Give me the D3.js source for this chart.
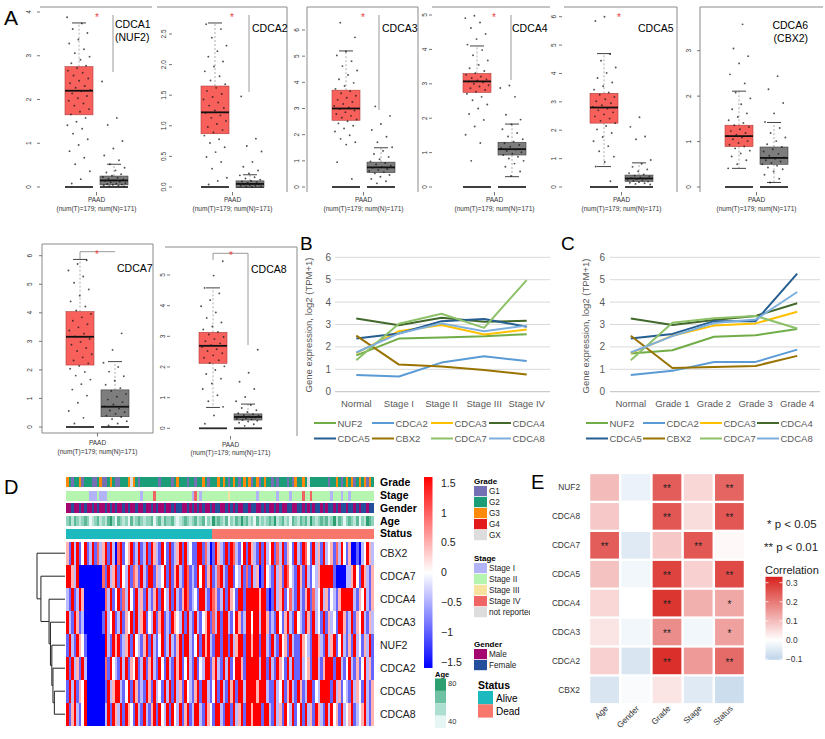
<!DOCTYPE html>
<html><head><meta charset="utf-8">
<script src="https://cdn.jsdelivr.net/npm/d3@7/dist/d3.min.js"></script>
<style>body{margin:0;background:#fff}svg{display:block}</style>
</head><body><svg id="c" width="825" height="739"></svg>
<script>
// ================= DATA =================
// Panel A: boxplots (TCGA PAAD tumor vs GTEx normal)
const boxGenes = ["CDCA1","CDCA2","CDCA3","CDCA4","CDCA5","CDCA6","CDCA7","CDCA8"];
const boxAlias = ["(NUF2)","","","","","(CBX2)","",""];
const boxYMax  = [4,2.5,6,5,6,3,6,5];
const boxTickStep = [1,0.5,1,1,1,1,1,1];
const boxSig   = [true,true,true,true,true,false,true,true];
const boxCaption1 = "PAAD";
const boxCaption2 = "(num(T)=179; num(N)=171)";
// [q1, median, q3, lower whisker, upper whisker]
const tumorStats = [
 [1.65,2.20,2.75,0.00,3.75],[0.87,1.22,1.65,0.03,2.68],[2.55,3.00,3.70,0.00,5.20],[2.75,3.07,3.30,0.00,4.10],
 [2.25,2.80,3.30,0.72,4.70],[0.89,1.12,1.36,0.41,2.11],[2.17,3.16,4.04,0.00,5.87],[2.12,2.69,3.13,0.68,4.58]];
const normalStats = [
 [0.05,0.15,0.25,0.00,0.52],[0.00,0.05,0.10,0.00,0.20],[0.55,0.75,0.95,0.00,1.50],[0.93,1.10,1.30,0.30,1.83],
 [0.20,0.30,0.42,0.00,0.85],[0.50,0.64,0.88,0.10,1.42],[0.36,0.71,1.30,0.00,2.29],[0.27,0.37,0.47,0.00,0.79]];
const tumorPts = [
 [3.88,3.74,3.61,3.52,3.37,3.28,3.15,3.06,2.98,2.91,2.83,2.77,2.72,2.66,2.61,2.55,2.48,2.43,2.37,2.31,2.27,2.22,2.19,2.14,2.08,2.03,1.97,1.91,1.86,1.78,1.72,1.66,1.58,1.49,1.41,1.33,1.22,1.09,0.96,0.82,0.67,0.52,0.36,0.18,0.08],
 [2.66,2.58,2.44,2.31,2.22,2.13,2.05,1.97,1.89,1.81,1.74,1.68,1.62,1.57,1.52,1.47,1.43,1.38,1.33,1.29,1.25,1.21,1.17,1.13,1.08,1.03,0.98,0.93,0.89,0.84,0.78,0.72,0.65,0.57,0.49,0.41,0.30,0.15,0.10,0.04],
 [6.28,5.72,5.18,5.03,4.81,4.62,4.45,4.28,4.12,3.98,3.86,3.75,3.66,3.58,3.49,3.41,3.33,3.25,3.17,3.10,3.04,2.98,2.92,2.86,2.79,2.72,2.65,2.58,2.51,2.43,2.34,2.24,2.12,1.98,1.84,1.71,1.62,0.95,0.31],
 [4.98,4.91,4.78,4.62,4.45,4.30,4.14,3.98,3.83,3.68,3.55,3.45,3.37,3.31,3.26,3.21,3.17,3.13,3.10,3.07,3.04,3.00,2.96,2.92,2.87,2.82,2.77,2.71,2.62,2.52,2.40,2.28,2.12,1.95,1.76,1.52,1.28,0.76],
 [6.00,5.85,4.68,4.45,4.21,4.02,3.84,3.68,3.55,3.43,3.33,3.25,3.17,3.09,3.02,2.95,2.88,2.82,2.76,2.70,2.63,2.56,2.49,2.41,2.33,2.25,2.15,2.03,1.90,1.76,1.61,1.44,1.26,1.07,0.88,0.72,0.20],
 [3.58,3.05,2.88,2.72,2.48,2.28,2.08,1.95,1.82,1.71,1.62,1.54,1.47,1.41,1.36,1.32,1.27,1.23,1.19,1.15,1.12,1.09,1.05,1.01,0.97,0.93,0.89,0.85,0.80,0.74,0.67,0.59,0.50,0.41],
 [5.84,5.71,5.48,5.27,5.05,4.82,4.60,4.40,4.22,4.08,3.96,3.84,3.72,3.60,3.49,3.38,3.27,3.17,3.08,2.98,2.88,2.77,2.66,2.55,2.44,2.33,2.23,2.14,2.04,1.93,1.80,1.66,1.50,1.31,1.10,0.85,0.56,0.32,0.12],
 [5.45,4.98,4.58,4.40,4.18,3.98,3.78,3.60,3.45,3.32,3.22,3.14,3.06,2.98,2.91,2.84,2.77,2.71,2.65,2.58,2.52,2.45,2.38,2.30,2.22,2.13,2.02,1.90,1.77,1.62,1.46,1.28,1.08,0.88,0.70,0.42,0.15]];
const normalPts = [
 [2.41,1.58,1.42,1.05,0.88,0.72,0.61,0.52,0.44,0.38,0.33,0.29,0.26,0.23,0.21,0.19,0.17,0.15,0.14,0.12,0.11,0.09,0.08,0.07,0.06,0.05,0.04,0.03,0.02,0.01],
 [1.48,0.79,0.67,0.58,0.41,0.33,0.27,0.22,0.19,0.16,0.14,0.12,0.10,0.09,0.08,0.07,0.06,0.05,0.04,0.04,0.03,0.02,0.02,0.01,0.01,0.00],
 [3.08,2.72,2.41,2.18,1.92,1.71,1.52,1.38,1.26,1.15,1.06,0.98,0.92,0.86,0.81,0.77,0.73,0.69,0.65,0.61,0.57,0.52,0.46,0.39,0.31,0.22,0.14],
 [2.95,2.88,2.62,2.10,1.96,1.82,1.68,1.57,1.47,1.39,1.32,1.27,1.22,1.17,1.13,1.09,1.05,1.01,0.97,0.93,0.88,0.83,0.76,0.68,0.59,0.45,0.32],
 [2.46,2.12,1.78,1.68,0.95,0.82,0.71,0.62,0.55,0.49,0.44,0.40,0.37,0.34,0.31,0.29,0.27,0.25,0.23,0.21,0.19,0.17,0.15,0.13,0.11,0.09],
 [2.44,2.15,1.85,1.62,1.43,1.30,1.19,1.09,1.01,0.94,0.88,0.83,0.78,0.73,0.69,0.65,0.62,0.59,0.56,0.53,0.50,0.47,0.43,0.39,0.34,0.27,0.18,0.10],
 [3.28,2.70,2.25,2.10,1.94,1.78,1.62,1.48,1.36,1.26,1.16,1.06,0.96,0.87,0.79,0.72,0.65,0.58,0.52,0.46,0.40,0.35,0.28,0.20,0.12,0.05],
 [2.56,1.81,1.52,1.28,1.02,0.88,0.76,0.66,0.59,0.53,0.49,0.46,0.43,0.41,0.39,0.37,0.35,0.33,0.31,0.29,0.27,0.25,0.22,0.18,0.13,0.08]];

// Panels B, C: mean expression lines
const lineGenes = ["NUF2","CDCA2","CDCA3","CDCA4","CDCA5","CBX2","CDCA7","CDCA8"];
const stageCats = ["Normal","Stage I","Stage II","Stage III","Stage IV"];
const gradeCats = ["Normal","Grade 1","Grade 2","Grade 3","Grade 4"];
const lineYTicks = [0,1,2,3,4,5,6];
const lineYTitle = "Gene expression, log2 (TPM+1)";
const stageVals = [
 [1.62,2.37,2.42,2.47,2.57],
 [0.75,0.68,1.30,1.58,1.37],
 [1.72,2.70,2.98,2.55,2.78],
 [3.27,2.97,3.30,3.12,3.17],
 [2.37,2.60,3.15,3.25,2.90],
 [2.50,1.21,1.12,0.97,0.77],
 [1.40,3.03,3.48,2.85,4.98],
 [1.75,2.60,3.05,2.70,2.95]];
const gradeVals = [
 [1.70,1.85,2.45,2.52,2.80],
 [0.75,0.93,1.33,1.33,1.88],
 [1.72,2.50,2.95,3.05,3.57],
 [3.27,2.98,3.20,3.38,3.95],
 [2.37,2.58,3.15,3.15,5.27],
 [2.50,1.06,1.10,1.15,1.60],
 [1.40,3.08,3.28,3.38,2.82],
 [1.75,2.48,3.07,3.22,4.45]];

// Panel D: heatmap (z-scores), 120 sample columns, coded levels
const heatGenes = ["CBX2","CDCA7","CDCA4","CDCA3","NUF2","CDCA2","CDCA5","CDCA8"];
const heatLevels = {B:-1.5,b:-0.9,l:-0.4,w:0,p:0.45,r:0.9,R:1.5};
const heatRows = [
 "pbRlRbwRbl RbrlpRbRlB rRbwpRblRb lRbRplbRwb RblpRbRlwb bRRbrlBbRp lbRbRrlbwR bRplbRbRlw RbrlRbpwbR lbRrwbRlpb RlwpbrlRwb pBBbBlwRpl",
 "RRplRBBBBB BBBBrbRlpR bRwlRbrpbR lbRRbplwRb RbpRlbRrbl bRwRbpRblr RlbRRbwlRb rbRlpBbRwl bRlpbRrwlb RpbRlbwlpR RRRRbBBBBl lpRwbRplbp",
 "lbRblRpBBB BBBBBrlRbw RbrlRwbRlp bRlbpRbRwl RbRlbpRrbl wbRRlbRrpb lRbRpwbRRb RRRRRpRRbB bRlpRbwrlb RlbpRbrlwR lpbwlbpRRR RRlbpwRlbp",
 "RlbRpblBBB BBBBbRlwRb lRbpwRbRlp RbwlRbpRbl bRpwlRbRlb RlbwpRbrlR bRRlbwRpbl RRwRRlRRpb lbRwbpRlbR wlbRpbRlwb RbplwbRRpb lRbpwRlbpl",
 "bRlbRpwbBB BBBBBRlbRp RblpRbRwlb pRbRlbwRbl RlbpRbRRlb wRbRpRlbRR bRRbRlpRRb RRpRRbRRlb RlbRwpbRlb bRpwlbRRpl bRlpRbwRlb pbRlwbplRb",
 "RbRlpbRlBB BBBBBrbRwl bRlRbpwRbl RbpRlbRwbR lbRpRbwRlb RbwlRRbpRl bRlRbwRRpb RRRRRlRRbR lbRpwbRlRb bRlwpbRRlb pRRRbRRlbw RlbpbwRlpb",
 "bRlRbpwRBB BBBBBbRlpR RlbwRbRpbl bRpbRlwbRl RbRlpbRwlb pRbRRlbwRb RlbRpRbRRl RRRRpRRRlb bRlwRbpRlb RpblRRbwlR RRRbRlpbwl bRlpwbRlbp",
 "RbpRlbwRBB BBBBBlRbRp lRbRpwbRlb RlbpRbRwlR bRwlRbpRbl RRlbRpwbRR lbRRbRlpRb RRpRRRbRRl bRlpbRwlRb wRbRlpbRpl bRlRwpbRlw pRblwpRlbp"];
// dendrogram merges (R hclust style: negative = leaf index+1, positive = merge number), height
const dendroMerges = [[-7,-8,0.38],[-6,1,0.43],[-5,2,0.47],[-4,3,0.52],[-3,4,0.57],[-2,5,0.86],[-1,6,1.0]];
// annotations per sample column
const annoNames = ["Grade","Stage","Gender","Age","Status"];
const gradeAnno  = "3212231222 1123112321 12223x3212 2222221222 2123222122 1223212223 2321232123 2312312322 1212221213 2232x22222 2212232123 2312323132";
const stageAnno  = "2222222221 1121112222 2222222221 2222422222 2222222221 4212222222 2223222222 2222122222 2212222122 2242242222 2221222122 1222222222";
const genderAnno = "MMFMMFMFMM FMFMMFMFMF MMFMFMMFMM FMMFMFMMFM MFMFFMMFMF MFMFMMFMFF MMFMFMFMMF FMFFMMFMFM MFMFMMFFMM FFMFMFMFFM FMFFMFMFFM FFMFMFFMFF";
const ageAnno    = "2313212320 1231213420 3212031232 1223023132 2310123212 3123021423 2130213242 3120312123 2412312032 1323142123 2312413202 3213021432";
const statusAnno = "AAAAAAAAAA AAAAAAAAAA AAAAAAAAAA AAAAAAAAAA AAAAAAAAAA AAAAAAADDD DDDDDDDDDD DDDDDDDDDD DDDDDDDDDD DDDDDDDDDD DDDDDDDDDD DDDDDDDDDD";
const ageCodeVals = {"0":40,"1":50,"2":60,"3":70,"4":80};
const heatTicks = [1.5,1,0.5,0,-0.5,-1,-1.5];
const gradeLegend = [["1","G1"],["2","G2"],["3","G3"],["4","G4"],["x","GX"]];
const stageLegend = [["1","Stage I"],["2","Stage II"],["3","Stage III"],["4","Stage IV"],["n","not reported"]];
const genderLegend = [["M","Male"],["F","Female"]];
const statusLegend = [["A","Alive"],["D","Dead"]];
const ageLegendVals = [80,66.7,53.3,40];

// Panel E: correlation with clinical features
const corrRows = ["NUF2","CDCA8","CDCA7","CDCA5","CDCA4","CDCA3","CDCA2","CBX2"];
const corrCols = ["Age","Gender","Grade","Stage","Status"];
const corrVals = [
 [0.10,-0.03,0.24,0.06,0.23],
 [0.08,0.00,0.25,0.05,0.25],
 [0.24,-0.05,0.08,0.25,0.01],
 [0.09,-0.02,0.28,0.07,0.27],
 [0.06,0.00,0.30,0.12,0.13],
 [0.04,-0.02,0.17,-0.02,0.14],
 [0.07,-0.06,0.31,0.15,0.22],
 [-0.06,-0.01,0.04,-0.05,-0.08]];
const corrSig = [
 ["","","**","","**"],
 ["","","**","","**"],
 ["**","","","**",""],
 ["","","**","","**"],
 ["","","**","","*"],
 ["","","**","","*"],
 ["","","**","","**"],
 ["","","","",""]];
const corrTicks = [0.3,0.2,0.1,0.0,-0.1];

// ================= STYLE =================
const FF = "'Liberation Sans', Arial, Helvetica, sans-serif";
const lineColors = ["#70AD47","#5B9BD5","#FFC000","#43682B","#255E91","#997300","#8CC168","#7CAFDD"];
const gradeColors = {"1":"#7570b3","2":"#1b9e77","3":"#ff8a0a","4":"#e31a1c","x":"#dddddd"};
const stageColors = {"1":"#b3b3f7","2":"#b5f5b0","3":"#f7e2a0","4":"#f06464","n":"#dddddd"};
const genderColors = {"M":"#a3076f","F":"#234f9c"};
const statusColors = {"A":"#1cb9bf","D":"#f7776d"};

const svg = d3.select("#c").attr("font-family", FF);
const defs = svg.append("defs");
const blur = defs.append("filter").attr("id","hblur").attr("x",-0.01).attr("y",-0.01).attr("width",1.02).attr("height",1.02);
blur.append("feGaussianBlur").attr("stdDeviation","0.6 0");
function T(g,x,y,s,o){o=o||{};const t=g.append("text").attr("x",x).attr("y",y).text(s)
  .attr("font-size",o.size||10).attr("fill",o.fill||"#000").attr("text-anchor",o.anchor||"start");
  if(o.weight)t.attr("font-weight",o.weight);
  if(o.rot!=null)t.attr("transform",`rotate(${o.rot},${x},${y})`);
  return t;}
function L(g,x1,y1,x2,y2,c,w,dash){const l=g.append("line").attr("x1",x1).attr("y1",y1).attr("x2",x2).attr("y2",y2)
  .attr("stroke",c||"#000").attr("stroke-width",w||1);if(dash)l.attr("stroke-dasharray",dash);return l;}

// panel letters
[["A",4,25,21],["B",300,250,19],["C",561,250,19],["D",4,494,20],["E",531,489,20]].forEach(d=>T(svg,d[1],d[2],d[0],{size:d[3]}));

// ================= PANEL A =================
const boxLayout = [
 {tx:65, zy:187,ty:12,  ax:40, lx:29, bot:192,cap:[202,211],frame:[["h",40,152,7]],star:[97,16],br:[[113,15,113,72]],lab:[115,28,"start"]},
 {tx:201,zy:187,ty:34,  ax:172,lx:164,bot:192,cap:[202,211],frame:[["h",157,287,7],["v",287,7,192]],star:[232,16],br:[[249,15,249,92]],lab:[252,32,"start"]},
 {tx:332,zy:187,ty:30,  ax:305,lx:297,bot:192,cap:[202,211],frame:[["h",307,418,7],["v",307,7,192],["v",418,7,192]],star:[363,16],br:[[379,15,379,110]],lab:[382,32,"start"]},
 {tx:463,zy:187,ty:15,  ax:432,lx:425,bot:192,cap:[202,211],frame:[["h",432,550,7]],star:[494,16],br:[[511,15,511,80]],lab:[512,32,"start"]},
 {tx:590,zy:187,ty:16.7,ax:562,lx:554,bot:192,cap:[202,211],frame:[["h",564,677,7],["v",677,7,192]],star:[619,16],br:[],lab:[638,32,"start"]},
 {tx:725,zy:187,ty:50.7,ax:700,lx:689,bot:192,cap:[202,211],frame:[["h",700,823,7],["v",700,7,192]],star:null,br:[],lab:[808,29,"end"]},
 {tx:66, zy:427,ty:255.7,ax:42,lx:30, bot:433,cap:[445,454],frame:[["h",42,153,244],["v",42,244,433],["v",153,244,433],["h",42,153,433]],star:[97,253],br:[[80,251.7,115,251.7],[80,251.7,80,260]],lab:[117,272,"start"]},
 {tx:199,zy:428.3,ty:275,ax:170,lx:163,bot:436,cap:[447,455],frame:[["h",165,297,247],["v",297,247,436]],star:[231,254],br:[[213,253.3,248,253.3],[213,253.3,213,260],[248,253.3,248,345]],lab:[251,273,"start"]}
];
boxLayout.forEach((P,i)=>{
  const g = svg.append("g");
  const x = d3.scaleBand().domain(["T","N"]).range([P.tx,P.tx+63]).paddingInner(0.2);
  const y = d3.scaleLinear().domain([0,boxYMax[i]]).range([P.zy,P.ty]);
  const bw = x.bandwidth();
  P.frame.forEach(f=>{ if(f[0]==="h") L(g,f[1],f[3],f[2],f[3],"#8a8a8a",1); else L(g,f[1],f[2],f[1],f[3],"#8a8a8a",1); });
  const fmt = boxTickStep[i]<1 ? d3.format(".1f") : d3.format("d");
  y.ticks(Math.round(boxYMax[i]/boxTickStep[i])).forEach(v=>{
    L(g,P.ax-3,y(v),P.ax,y(v),"#555",0.8);
    T(g,P.lx+2.3,y(v),fmt(v),{size:6.5,anchor:"middle",rot:-90,fill:"#333"});
  });
  const cx = P.tx+31.5;
  L(g,cx,P.bot,cx,P.bot+3.5,"#555",0.8);
  T(g,cx,P.cap[0],boxCaption1,{size:6.5,anchor:"middle",fill:"#333"});
  T(g,cx,P.cap[1],boxCaption2,{size:6.5,anchor:"middle",fill:"#333"});
  P.br.forEach(b=>L(g,b[0],b[1],b[2],b[3],"#9a9a9a",1));
  if(boxSig[i] && P.star) T(g,P.star[0],P.star[1]+5,"*",{size:10,anchor:"middle",fill:"#e8403e"});
  T(g,P.lab[0],P.lab[1],boxGenes[i],{size:10.5,anchor:P.lab[2]});
  if(boxAlias[i]) T(g,P.lab[0],P.lab[1]+13,boxAlias[i],{size:10.5,anchor:P.lab[2]});
  [["T",tumorStats[i],tumorPts[i],"#f8605c","#b03c3a"],["N",normalStats[i],normalPts[i],"#7d7d7d","#3c3c3c"]].forEach(([k,s,pts,fill,st])=>{
    const x0 = x(k), c = x0+bw/2;
    L(g,c,y(s[2]),c,y(s[4]),"#777",0.6,"2,2");
    L(g,c-bw/4,y(s[4]),c+bw/4,y(s[4]),"#444",1);
    if(s[3]>0.05){L(g,c,y(s[0]),c,y(s[3]),"#777",0.6,"2,2");L(g,c-bw/4,y(s[3]),c+bw/4,y(s[3]),"#444",1);}
    L(g,x0,y(0),x0+bw,y(0),"#2a2a2a",1.8);
    g.append("rect").attr("x",x0).attr("y",y(s[2])).attr("width",bw).attr("height",Math.max(1,y(s[0])-y(s[2])))
      .attr("fill",fill).attr("stroke",st).attr("stroke-width",0.6);
    L(g,x0,y(s[1]),x0+bw,y(s[1]),"#111",1.8);
    g.selectAll(null).data(pts).join("circle")
      .attr("cx",(d,j)=>c+(((j*0.618034+i*0.13)%1)-0.5)*bw*0.85)
      .attr("cy",d=>y(d)).attr("r",0.95).attr("fill","#1a1a1a").attr("opacity",0.75);
  });
});

// ================= PANELS B & C =================
function linePanel(cats, vals, C){
  const g = svg.append("g");
  const x = d3.scaleBand().domain(cats).range([C.x0,C.x1]);
  const y = d3.scaleLinear().domain([0,6]).range([391.7,257.3]);
  lineYTicks.forEach(v=>{
    L(g,C.x0,y(v),C.x1+2,y(v),v===0?"#bfbfbf":"#d9d9d9",1);
    T(g,C.lx,y(v)+3.5,String(v),{size:10,anchor:"end",fill:"#595959"});
  });
  cats.forEach(c=>T(g,x(c)+x.bandwidth()/2,406.5,c,{size:9.5,anchor:"middle",fill:"#595959"}));
  T(g,C.tx,C.ty,lineYTitle,{size:9.5,anchor:"middle",fill:"#595959",rot:-90});
  const line = d3.line().x((d,j)=>x(cats[j])+x.bandwidth()/2).y(d=>y(d));
  vals.forEach((v,k)=>g.append("path").attr("d",line(v)).attr("fill","none").attr("stroke",lineColors[k]).attr("stroke-width",2).attr("stroke-linejoin","round"));
  lineGenes.forEach((n,k)=>{
    const ly = [423,438.5][Math.floor(k/4)], lx = C.leg[k%4];
    L(g,lx,ly,lx+22,ly,lineColors[k],2);
    T(g,lx+23.5,ly+3.5,n,{size:9.5,fill:"#595959"});
  });
}
linePanel(stageCats, stageVals, {x0:335,x1:548,lx:331,tx:312,ty:325,leg:[314,372,431,489]});
linePanel(gradeCats, gradeVals, {x0:610,x1:818,lx:605,tx:589,ty:326,leg:[586,643,700,757]});

// ================= PANEL D =================
const gD = svg.append("g");
const nCols = heatRows[0].replace(/ /g,"").length;
const colIdx = d3.range(nCols);
const hx = d3.scaleBand().domain(colIdx).range([66,374]);
const hy = d3.scaleBand().domain(heatGenes).range([541.7,725.7]);
const heatColor = d3.scaleLinear().domain([-1.5,0,1.5]).range(["#0000ff","#ffffff","#ff0000"]).clamp(true);
const gHeat = gD.append("g").attr("filter","url(#hblur)");
heatRows.forEach((row,r)=>{
  const vals = row.replace(/ /g,"").split("").map(ch=>heatLevels[ch]);
  gHeat.selectAll(null).data(vals).join("rect")
    .attr("x",(d,j)=>hx(j)).attr("y",hy(heatGenes[r])).attr("width",hx.bandwidth()+0.35).attr("height",hy.bandwidth()+0.3)
    .attr("fill",d=>heatColor(d)).attr("shape-rendering","crispEdges");
  T(gD,380,hy(heatGenes[r])+hy.bandwidth()/2+3.6,heatGenes[r],{size:10.5,fill:"#222"});
});
const ageColor = d3.scaleLinear().domain([40,60,80]).range(["#e6f6f5","#8fd3bd","#2c9f70"]);
const annoRows = [
 [gradeAnno, ch=>gradeColors[ch], 477.3],
 [stageAnno, ch=>stageColors[ch], 490.6],
 [genderAnno, ch=>genderColors[ch], 503.3],
 [ageAnno, ch=>ageColor(ageCodeVals[ch]), 516],
 [statusAnno, ch=>statusColors[ch], 528.7]];
annoRows.forEach(([s,fc,yy],k)=>{
  const codes = s.replace(/ /g,"").split("");
  gD.selectAll(null).data(codes).join("rect")
    .attr("x",(d,j)=>hx(j)).attr("y",yy).attr("width",hx.bandwidth()+0.35).attr("height",10)
    .attr("fill",d=>fc(d)).attr("shape-rendering","crispEdges");
  T(gD,380,yy+8.6,annoNames[k],{size:10.5,weight:"bold"});
});
const dx = d3.scaleLinear().domain([0,1]).range([65,37]);
const nodePos = [];
function pos(id){ return id<0 ? {y:hy(heatGenes[-id-1])+hy.bandwidth()/2, h:0} : nodePos[id-1]; }
dendroMerges.forEach(([a,b,h])=>{
  const A=pos(a), B=pos(b);
  L(gD,dx(A.h),A.y,dx(h),A.y,"#222",1);
  L(gD,dx(B.h),B.y,dx(h),B.y,"#222",1);
  L(gD,dx(h),A.y,dx(h),B.y,"#222",1);
  nodePos.push({y:(A.y+B.y)/2,h:h});
});
const hg = defs.append("linearGradient").attr("id","hgrad").attr("x1",0).attr("y1",1).attr("x2",0).attr("y2",0);
[-1.59,0,1.59].forEach((v,k)=>hg.append("stop").attr("offset",k/2).attr("stop-color",heatColor(v)));
const hcy = d3.scaleLinear().domain([-1.5,1.5]).range([662,483]);
gD.append("rect").attr("x",424).attr("y",hcy(1.6)).attr("width",8.5).attr("height",hcy(-1.6)-hcy(1.6)).attr("fill","url(#hgrad)");
heatTicks.forEach(v=>T(gD,441,hcy(v)+3.8,d3.format("")(v).replace("-","\u2212"),{size:10.5,fill:"#222"}));
const clipL = defs.append("clipPath").attr("id","clipL");
clipL.append("rect").attr("x",460).attr("y",460).attr("width",70).attr("height",279);
const gL = gD.append("g").attr("clip-path","url(#clipL)");
function catLegend(title, items, colors, ty){
  T(gL,474,ty,title,{size:8,weight:"bold"});
  items.forEach(([k,lab],j)=>{
    gL.append("rect").attr("x",474).attr("y",ty+2+j*11).attr("width",13).attr("height",10.2).attr("fill",colors[k]);
    T(gL,489,ty+10+j*11,lab,{size:8.2,fill:"#222"});
  });
}
catLegend("Grade",gradeLegend,gradeColors,484);
catLegend("Stage",stageLegend,stageColors,561);
catLegend("Gender",genderLegend,genderColors,647);
T(gL,478,689,"Status",{size:10.5,weight:"bold"});
statusLegend.forEach(([k,lab],j)=>{
  gL.append("rect").attr("x",478).attr("y",691+j*13.3).attr("width",15).attr("height",13.3).attr("fill",statusColors[k]);
  T(gL,496,702+j*13.3,lab,{size:10});
});
T(gD,435,677,"Age",{size:7.5,weight:"bold"});
ageLegendVals.forEach((v,j)=>gD.append("rect").attr("x",435).attr("y",678.5+j*12.4).attr("width",11).attr("height",12.4).attr("fill",ageColor(v)));
T(gD,448,686,"80",{size:7.5,fill:"#333"});
T(gD,448,724,"40",{size:7.5,fill:"#333"});

// ================= PANEL E =================
const gE = svg.append("g");
const ex = d3.scaleBand().domain(corrCols).range([589,745]).paddingInner(0.08).paddingOuter(0.04);
const ey = d3.scaleBand().domain(corrRows).range([473,704.3]).paddingInner(0.08).paddingOuter(0.04);
const corrColor = d3.scaleLinear().domain([-0.104,0,0.331]).range(["#bdd3e9","#ffffff","#d8211c"]).clamp(true);
corrRows.forEach((r,i)=>{
  corrCols.forEach((c,j)=>{
    gE.append("rect").attr("x",ex(c)).attr("y",ey(r)).attr("width",ex.bandwidth()).attr("height",ey.bandwidth()).attr("fill",corrColor(corrVals[i][j]));
    if(corrSig[i][j]) T(gE,ex(c)+ex.bandwidth()/2,ey(r)+ey.bandwidth()/2+5,corrSig[i][j],{size:10,anchor:"middle",fill:"#222"});
  });
  T(gE,580,ey(r)+ey.bandwidth()/2+3,r,{size:8.3,anchor:"end",fill:"#333"});
});
corrCols.forEach(c=>{const xx=ex(c)+ex.bandwidth()/2+4; T(gE,xx,709,c,{size:8.3,anchor:"end",fill:"#333",rot:-45});});
T(gE,767,528,"* p < 0.05",{size:11.5,fill:"#222"});
T(gE,764,551,"** p < 0.01",{size:11.5,fill:"#222"});
T(gE,765,574,"Correlation",{size:11,fill:"#222"});
const ecy = d3.scaleLinear().domain([-0.1,0.3]).range([659,582.7]);
const eg = defs.append("linearGradient").attr("id","egrad").attr("x1",0).attr("y1",1).attr("x2",0).attr("y2",0);
[-0.104,0,0.331].forEach(v=>eg.append("stop").attr("offset",(v+0.104)/0.435).attr("stop-color",corrColor(v)));
gE.append("rect").attr("x",765.5).attr("y",ecy(0.331)).attr("width",17).attr("height",ecy(-0.104)-ecy(0.331)).attr("fill","url(#egrad)");
corrTicks.forEach(v=>{
  L(gE,765.5,ecy(v),768.5,ecy(v),"#fff",0.8); L(gE,779.5,ecy(v),782.5,ecy(v),"#fff",0.8);
  T(gE,786,ecy(v)+3,d3.format(".1f")(v).replace("-","\u2212"),{size:8.3,fill:"#333"});
});
</script></body></html>
